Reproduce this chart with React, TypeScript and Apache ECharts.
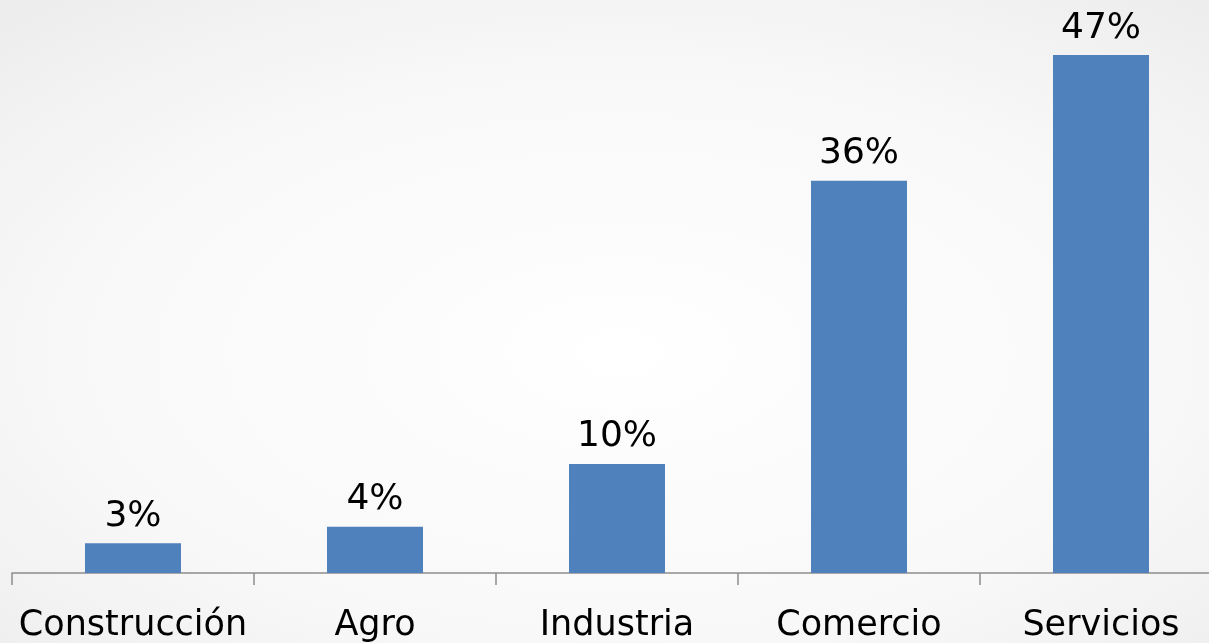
import React, { useEffect, useRef } from "react";
import * as echarts from "echarts";

const categories = ["Construcción", "Agro", "Industria", "Comercio", "Servicios"];
const values = [2.7, 4.2, 9.9, 35.6, 47];

export default function App() {
  const ref = useRef<HTMLDivElement>(null);
  useEffect(() => {
    if (!ref.current) return;
    const chart = echarts.init(ref.current, null, { renderer: "svg" });
    chart.setOption({
      animation: false,
      backgroundColor: {
        type: "radial",
        x: 0.5,
        y: 0.55,
        r: 0.75,
        colorStops: [
          { offset: 0, color: "#ffffff" },
          { offset: 0.6, color: "#f8f8f8" },
          { offset: 1, color: "#ececec" },
        ],
      },
      grid: { left: 12, top: 22, width: 1210, bottom: 70, containLabel: false },
      xAxis: {
        type: "category",
        data: categories,
        axisLine: { lineStyle: { color: "#8c8c8c", width: 1.5 } },
        axisTick: { show: true, interval: 0, length: 12, lineStyle: { color: "#8c8c8c", width: 1.5 } },
        axisLabel: {
          interval: 0,
          color: "#000",
          fontSize: 35,
          fontFamily: "DejaVu Sans",
          margin: 32,
        },
      },
      yAxis: { type: "value", min: 0, max: 50, show: false, splitLine: { show: false } },
      series: [
        {
          type: "bar",
          data: values,
          barWidth: 96,
          itemStyle: { color: "#4F81BD" },
          label: {
            show: true,
            position: "top",
            distance: 12,
            formatter: (p: any) => Math.round(p.value) + "%",
            color: "#000",
            fontSize: 36,
            fontFamily: "DejaVu Sans",
          },
        },
      ],
    });
    return () => chart.dispose();
  }, []);
  return (
    <div style={{ position: "fixed", left: 0, top: 0, width: 1209, height: 643, overflow: "hidden" }}>
      <div ref={ref} style={{ width: 1240, height: 643 }} />
    </div>
  );
}
